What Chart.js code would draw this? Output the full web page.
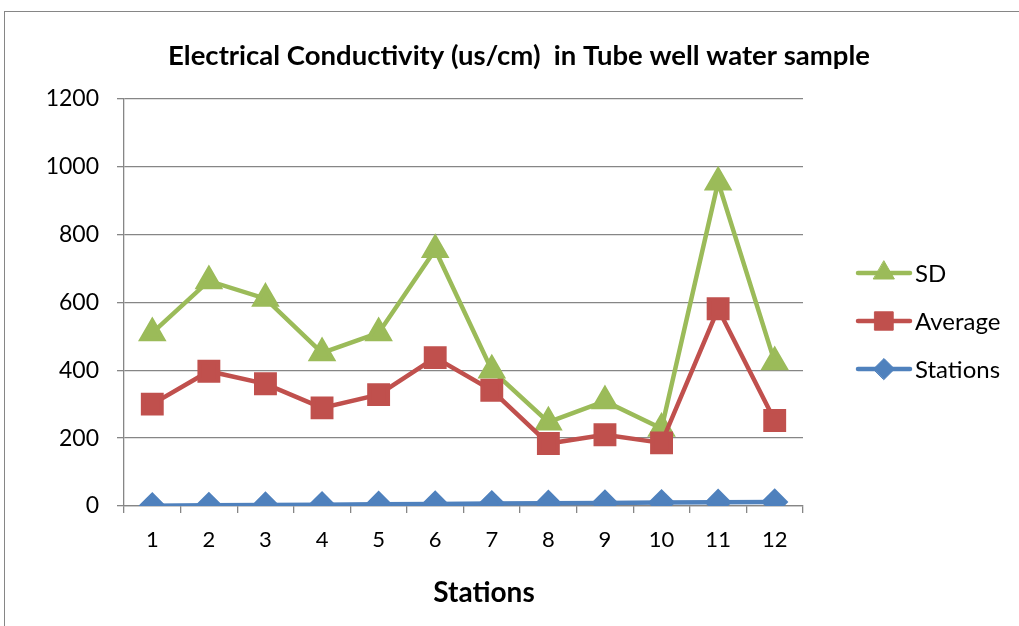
<!DOCTYPE html>
<html>
<head>
<meta charset="utf-8">
<script src="https://cdn.jsdelivr.net/npm/chart.js@4"></script>
<style>
  html, body { margin: 0; padding: 0; background: #fff; }
  #wrap { width: 1019px; height: 626px; position: relative; }
</style>
</head>
<body>
<div id="wrap"><canvas id="c" width="1019" height="626"></canvas></div>
<script>
const categories = ['1','2','3','4','5','6','7','8','9','10','11','12'];
const stationsValues = [1,2,3,4,5,6,7,8,9,10,11,12];
const averageValues = [300,397,360,289,328,437,341,184,210,186,581,252];
const sdValues = [510,663,611,451,510,755,400,247,309,228,954,424];
const yTicks = [0,200,400,600,800,1000,1200];
const chartTitle = 'Electrical Conductivity (us/cm)  in Tube well water sample';
const xAxisTitle = 'Stations';

const GRID = '#868686';
const FONT = 'Lato, "Open Sans", sans-serif';

const frame = {
  id: 'frame',
  beforeDraw(chart) {
    const ctx = chart.ctx;
    ctx.save();
    ctx.fillStyle = '#fff';
    ctx.fillRect(0, 0, chart.width, chart.height);
    ctx.strokeStyle = GRID;
    ctx.lineWidth = 1;
    ctx.strokeRect(4.5, 11.5, 1200, 800);
    ctx.restore();
  }
};

const textPlugin = {
  id: 'texts',
  afterDraw(chart) {
    const ctx = chart.ctx;
    ctx.save();
    ctx.fillStyle = '#000';
    ctx.textAlign = 'center';
    ctx.textBaseline = 'middle';
    ctx.font = 'bold 27.5px ' + FONT;
    ctx.fillText(chartTitle, 519, 56);
    ctx.font = 'bold 28px ' + FONT;
    ctx.fillText(xAxisTitle, 484, 593);
    ctx.restore();
  }
};

const legendPlugin = {
  id: 'customLegend',
  afterDraw(chart) {
    const ctx = chart.ctx;
    const order = [2, 1, 0];
    const ys = [273, 321, 369];
    ctx.save();
    order.forEach((di, i) => {
      const ds = chart.data.datasets[di];
      const y = ys[i];
      ctx.strokeStyle = ds.borderColor;
      ctx.lineWidth = 4.5;
      ctx.lineCap = 'round';
      ctx.beginPath();
      ctx.moveTo(858, y);
      ctx.lineTo(910, y);
      ctx.stroke();
      ctx.fillStyle = ds.pointBackgroundColor;
      ctx.strokeStyle = ds.pointBorderColor;
      ctx.lineWidth = 1;
      Chart.helpers.drawPoint(ctx, {pointStyle: ds.pointStyle, radius: ds.pointRadius, borderWidth: 1, rotation: 0}, 884, y);
      ctx.fillStyle = '#000';
      ctx.font = '24px ' + FONT;
      ctx.textBaseline = 'middle';
      ctx.textAlign = 'left';
      ctx.fillText(ds.label, 915, y + 1);
    });
    ctx.restore();
  }
};

new Chart(document.getElementById('c'), {
  type: 'line',
  data: {
    labels: categories,
    datasets: [
      {
        label: 'Stations', data: stationsValues,
        borderColor: '#4F81BD', backgroundColor: '#4F81BD',
        pointBackgroundColor: '#4F81BD', pointBorderColor: '#4F81BD',
        pointStyle: 'rectRot', pointRadius: 10.5, borderWidth: 4.5, tension: 0
      },
      {
        label: 'Average', data: averageValues,
        borderColor: '#C0504D', backgroundColor: '#C0504D',
        pointBackgroundColor: '#C0504D', pointBorderColor: '#C0504D',
        pointStyle: 'rect', pointRadius: 13, borderWidth: 4.5, tension: 0
      },
      {
        label: 'SD', data: sdValues,
        borderColor: '#9BBB59', backgroundColor: '#9BBB59',
        pointBackgroundColor: '#9BBB59', pointBorderColor: '#9BBB59',
        pointStyle: 'triangle', pointRadius: 12, borderWidth: 4.5, tension: 0
      }
    ]
  },
  options: {
    responsive: false,
    animation: false,
    devicePixelRatio: 1,
    layout: { padding: { left: 0, right: 216, top: 98.7, bottom: 0 } },
    plugins: {
      legend: { display: false },
      tooltip: { enabled: false },
      title: { display: false }
    },
    scales: {
      x: {
        offset: true,
        grid: { offset: true, drawOnChartArea: false, drawTicks: true, tickLength: 7, color: GRID, lineWidth: 1.3 },
        border: { display: true, color: GRID, width: 1.3 },
        ticks: { color: '#000', font: { family: FONT, size: 22 }, padding: 14, maxRotation: 0 },
        afterFit(scale) { scale.height = 120; }
      },
      y: {
        min: 0, max: 1200,
        afterBuildTicks(scale) { scale.ticks = yTicks.map(v => ({ value: v })); },
        grid: { color: GRID, lineWidth: 1.3, tickLength: 7 },
        border: { display: true, color: GRID, width: 1.3 },
        ticks: { color: '#000', font: { family: FONT, size: 23 }, padding: 18, callback: (v) => String(v) },
        afterFit(scale) { scale.width = 124; }
      }
    }
  },
  plugins: [frame, legendPlugin, textPlugin]
});
</script>
</body>
</html>
